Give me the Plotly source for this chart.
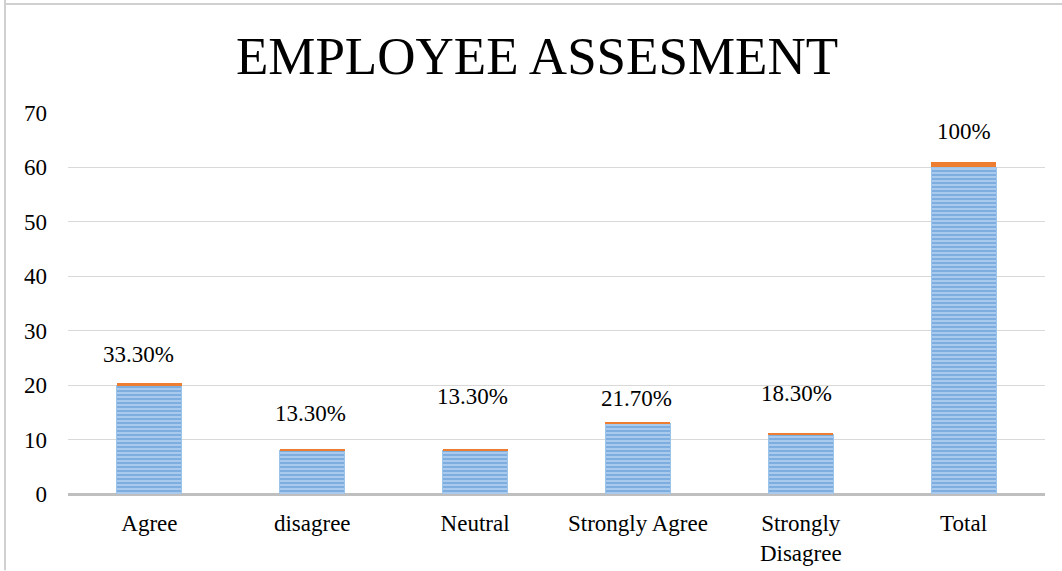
import plotly.graph_objects as go

# Survey responses: headcount per answer and the share of all respondents
categories = ["Agree", "disagree", "Neutral", "Strongly Agree", "Strongly<br>Disagree", "Total"]
counts = [20, 8, 8, 13, 11, 60]
percents = [33.3, 13.3, 13.3, 21.7, 18.3, 100]
pct_labels = ["33.30%", "13.30%", "13.30%", "21.70%", "18.30%", "100%"]
y_ticks = [0, 10, 20, 30, 40, 50, 60, 70]

# label nudges (pixels) for the percentage captions
label_dy = [29, 36, 53, 24, 40, 30]
label_dx = [-11, -2, -3, -1, -4, 0]

FONT = "Liberation Serif, Times New Roman, serif"
BLUE_FG = "#4a8ad2"
BLUE_BG = "#b3d1ef"
ORANGE = "#ed7d31"

fig = go.Figure()

fig.add_trace(go.Bar(
    x=categories, y=counts, name="Count",
    marker=dict(
        color=BLUE_BG,
        line=dict(width=1, color="#9cc3e8"),
        pattern=dict(shape="-", fgcolor=BLUE_FG, bgcolor=BLUE_BG,
                     size=4, solidity=0.6, fillmode="overlay"),
    ),
    hoverinfo="skip",
))

share = [p / 100 for p in percents]
fig.add_trace(go.Bar(
    x=categories, y=share, name="Share",
    marker=dict(color=ORANGE, line=dict(width=0)),
    hoverinfo="skip",
))

for cat, c, s, lab, dy, dx in zip(categories, counts, share, pct_labels, label_dy, label_dx):
    fig.add_annotation(
        x=cat, y=c + s, text=lab, showarrow=False,
        yanchor="middle", xanchor="center", yshift=dy, xshift=dx,
        font=dict(family=FONT, size=23, color="#000000"),
    )

# chart frame lines (left edge and top edge)
fig.add_shape(type="line", xref="paper", yref="paper",
              x0=-0.0645, x1=-0.0645, y0=-0.2, y1=1.3,
              line=dict(color="#d0d0d0", width=2))
fig.add_shape(type="line", xref="paper", yref="paper",
              x0=-0.0645, x1=1.1, y0=1 + (113 - 4) / 381, y1=1 + (113 - 4) / 381,
              line=dict(color="#d0d0d0", width=2))

fig.update_layout(
    width=1062, height=571,
    barmode="stack",
    bargap=0.6,
    showlegend=False,
    plot_bgcolor="white",
    paper_bgcolor="white",
    margin=dict(l=68, r=17, t=113, b=77, autoexpand=False),
    title=dict(
        text="EMPLOYEE ASSESMENT",
        x=537 / 1062, xanchor="center", xref="container",
        y=1 - 55 / 571, yanchor="middle",
        font=dict(family=FONT, size=53, color="#000000"),
    ),
    font=dict(family=FONT, size=23, color="#000000"),
    xaxis=dict(
        showgrid=False, showline=False, ticks="",
        tickfont=dict(family=FONT, size=23, color="#000000"),
        ticklabelstandoff=13,
    ),
    yaxis=dict(
        range=[0, 70], tickvals=y_ticks,
        showgrid=True, gridcolor="#d9d9d9", gridwidth=1,
        zeroline=True, zerolinecolor="#bfbfbf", zerolinewidth=3,
        showline=False, ticks="",
        tickfont=dict(family=FONT, size=23, color="#000000"),
        ticklabelstandoff=20,
    ),
)

fig.write_html("out.html")
